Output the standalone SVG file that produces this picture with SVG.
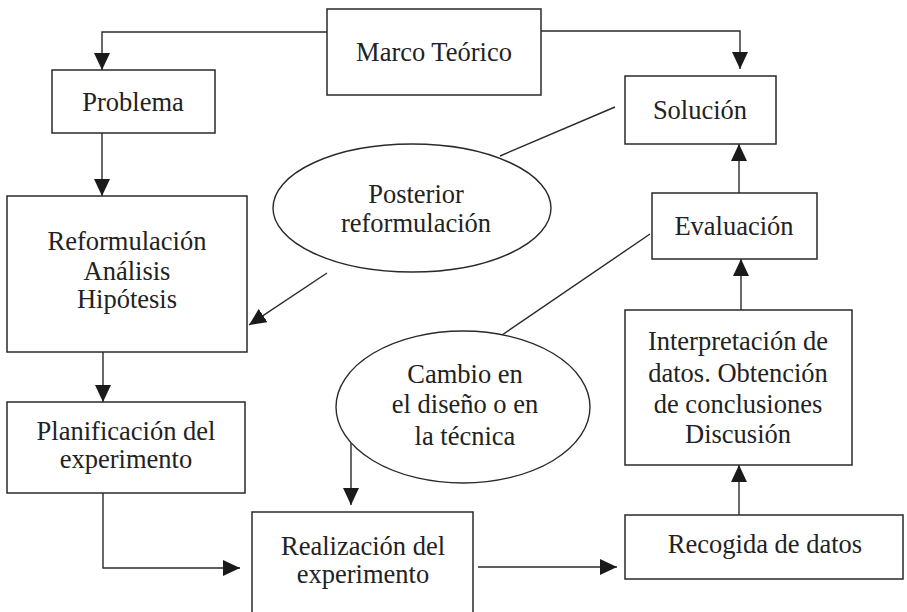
<svg xmlns="http://www.w3.org/2000/svg" width="907" height="612" viewBox="0 0 907 612">
<style>
.box{fill:#fff;stroke:#2a2a2a;stroke-width:1.5}
.ell{fill:#fff;stroke:#2a2a2a;stroke-width:1.4}
.c{fill:none;stroke:#2a2a2a;stroke-width:1.4}
text{font-family:"Liberation Serif","Times New Roman",serif;font-size:26.5px;fill:#222;text-anchor:middle}
</style>
<defs>
<marker id="ah" markerUnits="userSpaceOnUse" markerWidth="18" markerHeight="16" refX="17" refY="8" orient="auto">
<path d="M0,0 L17,8 L0,16 z" fill="#1a1a1a"/>
</marker>
</defs>
<rect width="907" height="612" fill="#fff"/>
<g id="connectors">
<path class="c" d="M327,32 H102 V70" marker-end="url(#ah)"/>
<path class="c" d="M541,31 H740 V69" marker-end="url(#ah)"/>
<path class="c" d="M102,133 V196" marker-end="url(#ah)"/>
<path class="c" d="M103,352 V402" marker-end="url(#ah)"/>
<path class="c" d="M103,493 V568 H240" marker-end="url(#ah)"/>
<path class="c" d="M478,567 H617" marker-end="url(#ah)"/>
<path class="c" d="M739,515 V465" marker-end="url(#ah)"/>
<path class="c" d="M741,310 V259" marker-end="url(#ah)"/>
<path class="c" d="M739,193 V144" marker-end="url(#ah)"/>
<path class="c" d="M615,107 L500,156"/>
<path class="c" d="M327,273 L249,325" marker-end="url(#ah)"/>
<path class="c" d="M650,234 L502,335"/>
<path class="c" d="M351,440 V505" marker-end="url(#ah)"/>
</g>
<g id="marco"><rect class="box" x="327" y="9" width="214" height="86"/><text x="434" y="61">Marco Teórico</text></g>
<g id="problema"><rect class="box" x="52" y="70" width="163" height="63"/><text x="133" y="111">Problema</text></g>
<g id="solucion"><rect class="box" x="625" y="76" width="151" height="68"/><text x="700" y="119">Solución</text></g>
<g id="reformulacion"><rect class="box" x="7" y="196" width="240" height="156"/><text x="127" y="250">Reformulación</text><text x="127" y="280">Análisis</text><text x="127" y="308">Hipótesis</text></g>
<g id="posterior"><ellipse class="ell" cx="412" cy="208" rx="139" ry="64"/><text x="416" y="203">Posterior</text><text x="416" y="232">reformulación</text></g>
<g id="evaluacion"><rect class="box" x="652" y="193" width="165" height="66"/><text x="734" y="235">Evaluación</text></g>
<g id="interpretacion"><rect class="box" x="625" y="310" width="227" height="155"/><text x="738" y="350">Interpretación de</text><text x="738" y="382">datos. Obtención</text><text x="738" y="413">de conclusiones</text><text x="738" y="443">Discusión</text></g>
<g id="cambio"><ellipse class="ell" cx="463" cy="407" rx="127" ry="76"/><text x="465" y="383">Cambio en</text><text x="465" y="413">el diseño o en</text><text x="465" y="445">la técnica</text></g>
<g id="planificacion"><rect class="box" x="7" y="402" width="238" height="91"/><text x="126" y="440">Planificación del</text><text x="126" y="468">experimento</text></g>
<g id="realizacion"><rect class="box" x="252" y="512" width="221" height="110"/><text x="363" y="555">Realización del</text><text x="363" y="583">experimento</text></g>
<g id="recogida"><rect class="box" x="625" y="515" width="278" height="64"/><text x="765" y="553">Recogida de datos</text></g>
</svg>
